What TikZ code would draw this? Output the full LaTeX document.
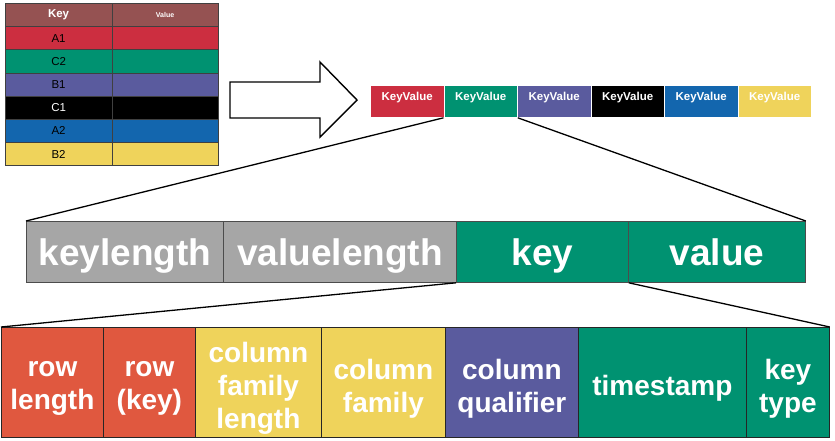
\documentclass[tikz,border=0pt]{standalone}
\usepackage{fontspec}
\setmainfont{Liberation Sans}

\definecolor{hbrown}{HTML}{955252}
\definecolor{tred}{HTML}{CC2E40}
\definecolor{tgreen}{HTML}{009271}
\definecolor{tpurple}{HTML}{5A5B9E}
\definecolor{tblue}{HTML}{1366AE}
\definecolor{tyellow}{HTML}{EFD35B}
\definecolor{mgrey}{HTML}{A6A6A6}
\definecolor{bred}{HTML}{E0583F}

\tikzset{
    tcell/.style={draw=black!75, line width=0.7pt, anchor=north west, inner sep=0pt,
        minimum width=106.5pt, minimum height=23.2pt, font=\fontsize{11.5}{12}\selectfont},
    kvcell/.style={draw=white, line width=0.8pt, anchor=north west, inner sep=0pt, text=white,
        minimum width=73.5pt, minimum height=32pt, text height=8pt, text depth=10pt,
        font=\fontsize{11.5}{12}\selectfont\bfseries},
    mcell/.style={draw=black!70, line width=0.8pt, anchor=north west, inner sep=0pt, text=white,
        minimum height=61pt, text height=27pt, text depth=0pt, font=\fontsize{37}{40}\selectfont\bfseries},
    bcell/.style={draw=black!85, line width=0.8pt, anchor=north west, inner sep=0pt, minimum height=110pt},
    btext/.style={text=white, align=center, inner sep=0pt, yshift=-6pt, font=\fontsize{28}{33}\selectfont\bfseries},
    link/.style={black, line width=1.3pt}
}

\begin{document}
\begin{tikzpicture}[x=1pt, y=-1pt]
            \useasboundingbox (0,0) rectangle (835,440);

            \node[tcell, fill=hbrown, text=white, font=\fontsize{11.5}{12}\selectfont\bfseries] (hkey) at (5,3) {Key};
            \node[tcell, fill=hbrown, text=white, font=\fontsize{7}{8}\selectfont\bfseries] (hval) at (111.5,3) {Value};
            \node[tcell, fill=tred] (ka1) at (5,26.2) {A1};
            \node[tcell, fill=tred] (va1) at (111.5,26.2) {};
            \node[tcell, fill=tgreen] (kc2) at (5,49.4) {C2};
            \node[tcell, fill=tgreen] (vc2) at (111.5,49.4) {};
            \node[tcell, fill=tpurple] (kb1) at (5,72.6) {B1};
            \node[tcell, fill=tpurple] (vb1) at (111.5,72.6) {};
            \node[tcell, fill=black, text=white] (kc1) at (5,95.8) {C1};
            \node[tcell, fill=black] (vc1) at (111.5,95.8) {};
            \node[tcell, fill=tblue] (ka2) at (5,119) {A2};
            \node[tcell, fill=tblue] (va2) at (111.5,119) {};
            \node[tcell, fill=tyellow] (kb2) at (5,142.2) {B2};
            \node[tcell, fill=tyellow] (vb2) at (111.5,142.2) {};

            \draw[black, line width=1.4pt, line join=miter] (230,82) -- (320,82) -- (320,62) -- (357,100)
                -- (320,137) -- (320,118) -- (230,118) -- cycle;

            \node[kvcell, fill=tred] (kv1) at (370,85) {KeyValue};
            \node[kvcell, fill=tgreen] (kv2) at (443.5,85) {KeyValue};
            \node[kvcell, fill=tpurple] (kv3) at (517,85) {KeyValue};
            \node[kvcell, fill=black] (kv4) at (590.5,85) {KeyValue};
            \node[kvcell, fill=tblue] (kv5) at (664,85) {KeyValue};
            \node[kvcell, fill=tyellow] (kv6) at (737.5,85) {KeyValue};

            \node[mcell, fill=mgrey, minimum width=197pt] (klen) at (26,221) {keylength};
            \node[mcell, fill=mgrey, minimum width=233pt] (vlen) at (223,221) {valuelength};
            \node[mcell, fill=tgreen, minimum width=172pt] (key) at (456,221) {key};
            \node[mcell, fill=tgreen, minimum width=177pt] (val) at (628,221) {value};

            \node[bcell, fill=bred, minimum width=102pt, label={[btext]center:{row\\length}}] (rlen) at (1,327) {};
            \node[bcell, fill=bred, minimum width=92pt, label={[btext]center:{row\\(key)}}] (rkey) at (103,327) {};
            \node[bcell, fill=tyellow, minimum width=126pt, label={[btext]center:{column\\family\\length}}] (cflen) at (195,327) {};
            \node[bcell, fill=tyellow, minimum width=124pt, label={[btext]center:{column\\family}}] (cfam) at (321,327) {};
            \node[bcell, fill=tpurple, minimum width=133pt, label={[btext]center:{column\\qualifier}}] (cqual) at (445,327) {};
            \node[bcell, fill=tgreen, minimum width=168pt, label={[btext]center:{timestamp}}] (tstamp) at (578,327) {};
            \node[bcell, fill=tgreen, minimum width=83pt, label={[btext]center:{key\\type}}] (ktype) at (746,327) {};

            \draw[link] (kv2.south west) -- (klen.north west);
            \draw[link] (kv2.south east) -- (val.north east);
            \draw[link] (key.south west) -- (rlen.north west);
            \draw[link] (key.south east) -- (ktype.north east);
        \end{tikzpicture}
\end{document}
